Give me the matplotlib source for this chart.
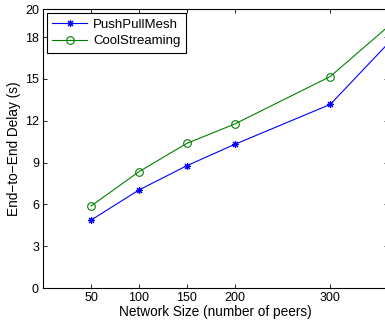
import matplotlib
matplotlib.use("Agg")
import matplotlib.pyplot as plt

peers = [50, 100, 150, 200, 300, 400]
push_pull_mesh = [4.87, 7.03, 8.77, 10.3, 13.17, 20.4]
cool_streaming = [5.88, 8.34, 10.37, 11.76, 15.17, 21.1]
xticks = [50, 100, 150, 200, 300]
yticks = [0, 3, 6, 9, 12, 15, 18, 20]

plt.rcParams['font.family'] = ['Liberation Sans', 'DejaVu Sans']

fig = plt.figure(figsize=(3.85, 3.27), dpi=100)
ax = fig.add_axes([0.112, 0.119, 0.895, 0.853])

ax.plot(peers, push_pull_mesh, color=(0, 0, 1), lw=0.8, marker=(8, 2, 0),
        markersize=5, markeredgewidth=0.8, label='PushPullMesh')
ax.plot(peers, cool_streaming, color=(0, 0.5, 0), lw=0.8, marker='o',
        markersize=5.5, markerfacecolor='none', markeredgewidth=0.8,
        label='CoolStreaming')

ax.set_xlim(0, 360)
ax.set_ylim(0, 20)
ax.set_xticks(xticks)
ax.set_yticks(yticks)
ax.tick_params(direction='in', top=True, right=True, length=3, width=0.6,
               labelsize=9, pad=3)
for s in ax.spines.values():
    s.set_linewidth(0.8)

ax.set_xlabel('Network Size (number of peers)', fontsize=9.8, labelpad=0.5)
ax.set_ylabel('End\u2212to\u2212End Delay (s)', fontsize=9.8, labelpad=3)

leg = ax.legend(loc='upper left', fontsize=9.5, fancybox=False,
                edgecolor='black', framealpha=1, borderpad=0.4,
                handlelength=2.6, borderaxespad=0.3, labelspacing=0.35,
                handletextpad=0.5)
leg.get_frame().set_linewidth(0.8)

fig.savefig('out.png', dpi=100)
